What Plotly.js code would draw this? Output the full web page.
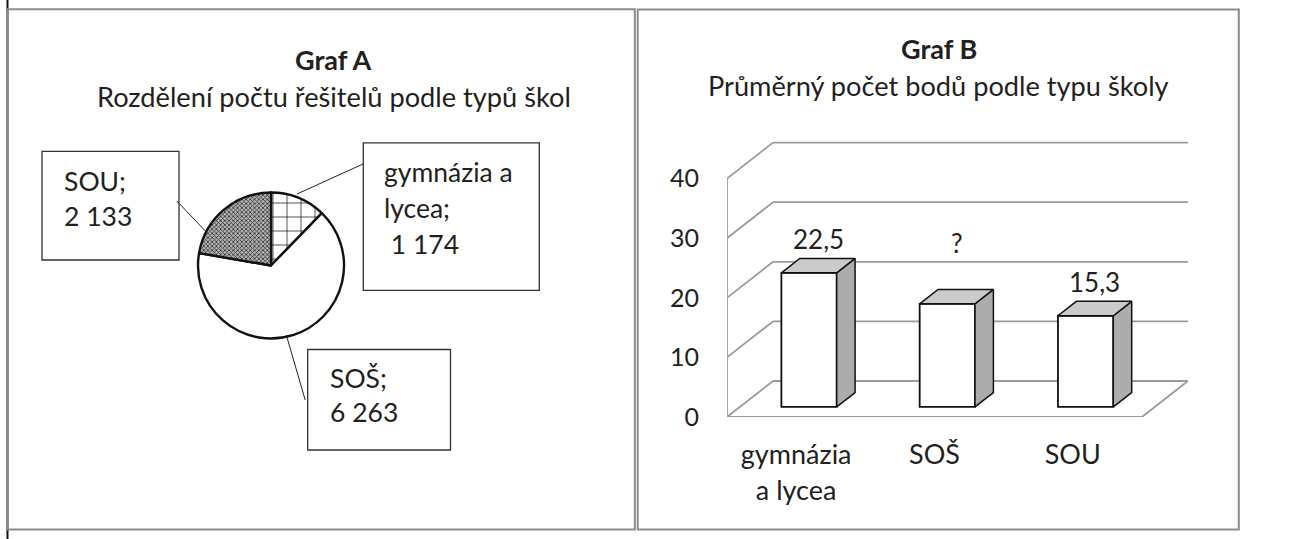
<!DOCTYPE html>
<html><head><meta charset="utf-8">
<script src="https://cdn.plot.ly/plotly-3.0.1.min.js"></script>
<style>html,body{margin:0;padding:0;background:#fff}#chart{width:1306px;height:539px}</style>
</head><body><div id="chart"></div>
<script>
// ---- Graf A data ----
const pieLabels = ['gymnázia a lycea', 'SOŠ', 'SOU'];
const pieValues = [1174, 6263, 2133];
const pieLabelLines = [['gymnázia a', 'lycea'], ['SOŠ'], ['SOU']];
// ---- Graf B data ----
const barCategories = ['gymnázia<br>a lycea', 'SOŠ', 'SOU'];
const barValues = [22.5, 17.3, 15.3];
const barLabels = ['22,5', '?', '15,3'];
const yTicks = [0, 10, 20, 30, 40];

const W = 1306, H = 539;
const X = p => p / W, Y = p => 1 - p / H;
const FONT = 'Lato, Carlito, Calibri, sans-serif';
const TXT = '#231f20';
const fmt = v => String(v).replace(/\B(?=(\d{3})+(?!\d))/g, ' ');

// ---- 3D geometry of Graf B (layout) ----
const PXU = 138.3, PYU = 5.96;     // px per category unit / per value unit
const X0 = 727, Y0 = 417;          // front-left-bottom corner in px
const XR = 3.5, YR = 47;           // axis ranges
const DX = 46 / PXU, DY = 36 / PYU; // floor depth in data units
const F = 0.28, BD = 0.4, BW = 0.40; // bar front depth fraction, bar depth fraction, bar width

const shapes = [];
// outer frames
shapes.push({type:'line', xref:'paper', yref:'paper', x0:X(7.5), x1:X(7.5), y0:0, y1:1, line:{color:'#111', width:2}});
shapes.push({type:'rect', xref:'paper', yref:'paper', x0:X(8), x1:X(634.8), y0:Y(529.5), y1:Y(9.3), line:{color:'#8c8c8c', width:2}});
shapes.push({type:'rect', xref:'paper', yref:'paper', x0:X(637.7), x1:X(1238.8), y0:Y(529.5), y1:Y(9.5), line:{color:'#8c8c8c', width:2}});

// label boxes + leader lines for pie
const boxes = [
  {r:[363.3,142.8,539.3,290.4], tx:382.3, ty:[172,208,244], lead:[363,164,297,194]},
  {r:[307.7,349.5,450.5,450], tx:327.5, ty:[378,412], lead:[286.3,335,305.2,400]},
  {r:[42,151.4,179,260], tx:62.2, ty:[180.6,216], lead:[176.8,201,205.4,231]}
];
const annotations = [];
boxes.forEach((b, i) => {
  shapes.push({type:'rect', xref:'paper', yref:'paper', x0:X(b.r[0]), x1:X(b.r[2]), y0:Y(b.r[3]), y1:Y(b.r[1]), line:{color:'#333', width:1.3}, fillcolor:'rgba(0,0,0,0)'});
  shapes.push({type:'line', xref:'paper', yref:'paper', x0:X(b.lead[0]), y0:Y(b.lead[1]), x1:X(b.lead[2]), y1:Y(b.lead[3]), line:{color:'#222', width:1}});
  const lines = pieLabelLines[i].slice();
  lines[lines.length - 1] += ';';
  lines.push((i === 0 ? '\u00a0' : '') + fmt(pieValues[i]));
  lines.forEach((t, k) => annotations.push({xref:'paper', yref:'paper', x:X(b.tx), y:Y(b.ty[k]), xanchor:'left', yanchor:'middle', text:t, showarrow:false, font:{family:FONT, size:26.5, color:TXT}}));
});

// titles
annotations.push({xref:'paper', yref:'paper', x:X(333.4), y:Y(59), text:'<b>Graf A</b>', showarrow:false, xanchor:'center', yanchor:'middle', font:{family:FONT, size:27, color:TXT}});
annotations.push({xref:'paper', yref:'paper', x:X(334), y:Y(96.5), text:'Rozdělení počtu řešitelů podle typů škol', showarrow:false, xanchor:'center', yanchor:'middle', font:{family:FONT, size:27.2, color:TXT}});
annotations.push({xref:'paper', yref:'paper', x:X(938.5), y:Y(48.5), text:'<b>Graf B</b>', showarrow:false, xanchor:'center', yanchor:'middle', font:{family:FONT, size:27, color:TXT}});
annotations.push({xref:'paper', yref:'paper', x:X(938.8), y:Y(85.3), text:'Průměrný počet bodů podle typu školy', showarrow:false, xanchor:'center', yanchor:'middle', font:{family:FONT, size:27.2, color:TXT}});

// walls / gridlines of Graf B (data coords, drawn below traces)
const WALL = {color:'#9b9b9b', width:1.8};
const nCat = barCategories.length;
yTicks.forEach(v => {
  shapes.push({type:'line', xref:'x', yref:'y', layer:'below', x0:0, y0:v, x1:DX, y1:v + DY, line:WALL});
  shapes.push({type:'line', xref:'x', yref:'y', layer:'below', x0:DX, y0:v + DY, x1:nCat + DX, y1:v + DY, line:WALL});
});
const yMax = yTicks[yTicks.length - 1];
shapes.push({type:'line', xref:'x', yref:'y', layer:'below', x0:0, y0:0, x1:0, y1:yMax, line:WALL});
shapes.push({type:'line', xref:'x', yref:'y', layer:'below', x0:0, y0:0, x1:nCat, y1:0, line:WALL});
shapes.push({type:'line', xref:'x', yref:'y', layer:'below', x0:nCat, y0:0, x1:nCat + DX, y1:DY, line:WALL});

// ---- traces ----
const traces = [];
traces.push({
  type:'pie', labels:pieLabels, values:pieValues, sort:false, direction:'clockwise', rotation:0,
  textinfo:'none', hoverinfo:'label+value', showlegend:false,
  domain:{x:[X(190), X(352)], y:[Y(338.5), Y(192.5)]},
  marker:{
    colors:['#ffffff', '#ffffff', '#8a8a8a'],
    line:{color:'#111', width:2.4},
    pattern:{shape:['+', '', 'x'], size:[14, 8, 3], solidity:[0.1, 0.1, 0.45], fgcolor:['#111', '#111', '#2a2a2a'], bgcolor:['#ffffff', '#ffffff', '#b4b4b4'], fillmode:'replace'}
  }
});

const bdx = BD * DX, bdy = BD * DY, fx = F * DX, fy = F * DY;
const xc = barCategories.map((c, i) => i + 0.5);
traces.push({
  type:'bar', x:xc.map(v => v + fx), y:barValues, base:barValues.map(() => fy), width:BW,
  marker:{color:'#ffffff', line:{color:'#111', width:1.8}}, hoverinfo:'y', showlegend:false, xaxis:'x', yaxis:'y'
});
barValues.forEach((v, i) => {
  const xl = xc[i] + fx - BW / 2, xr = xc[i] + fx + BW / 2, yb = fy, yt = fy + v;
  traces.push({type:'scatter', mode:'lines', x:[xr, xr + bdx, xr + bdx, xr, xr], y:[yb, yb + bdy, yt + bdy, yt, yb],
    fill:'toself', fillcolor:'#acacac', line:{color:'#111', width:1.5}, hoverinfo:'skip', showlegend:false});
  traces.push({type:'scatter', mode:'lines', x:[xl, xl + bdx, xr + bdx, xr, xl], y:[yt, yt + bdy, yt + bdy, yt, yt],
    fill:'toself', fillcolor:'#cbcbcb', line:{color:'#111', width:1.5}, hoverinfo:'skip', showlegend:false});
  annotations.push({xref:'x', yref:'y', x:xc[i] + fx + bdx / 2, y:yt + bdy, yshift: barLabels[i] === '?' ? 46 : 19.5,
    xanchor:'center', yanchor:'middle', text:barLabels[i], showarrow:false, font:{family:FONT, size:26, color:TXT}});
});

const layout = {
  width:W, height:H, margin:{l:0, r:0, t:0, b:0}, paper_bgcolor:'#fff', plot_bgcolor:'rgba(0,0,0,0)',
  showlegend:false, font:{family:FONT, color:TXT},
  xaxis:{domain:[X(X0), X(X0 + XR * PXU)], range:[0, XR], tickvals:xc, ticktext:barCategories,
    showgrid:false, zeroline:false, showline:false, ticks:'outside', ticklen:14, tickcolor:'rgba(0,0,0,0)',
    tickfont:{family:FONT, size:27, color:TXT}, fixedrange:true},
  yaxis:{domain:[Y(Y0), Y(Y0 - YR * PYU)], range:[0, YR], tickvals:yTicks, ticktext:yTicks.map(String),
    showgrid:false, zeroline:false, showline:false, ticks:'outside', ticklen:22, tickcolor:'rgba(0,0,0,0)',
    tickfont:{family:FONT, size:25, color:TXT}, fixedrange:true},
  shapes:shapes, annotations:annotations
};
Plotly.newPlot('chart', traces, layout, {displayModeBar:false, staticPlot:true});
</script></body></html>
